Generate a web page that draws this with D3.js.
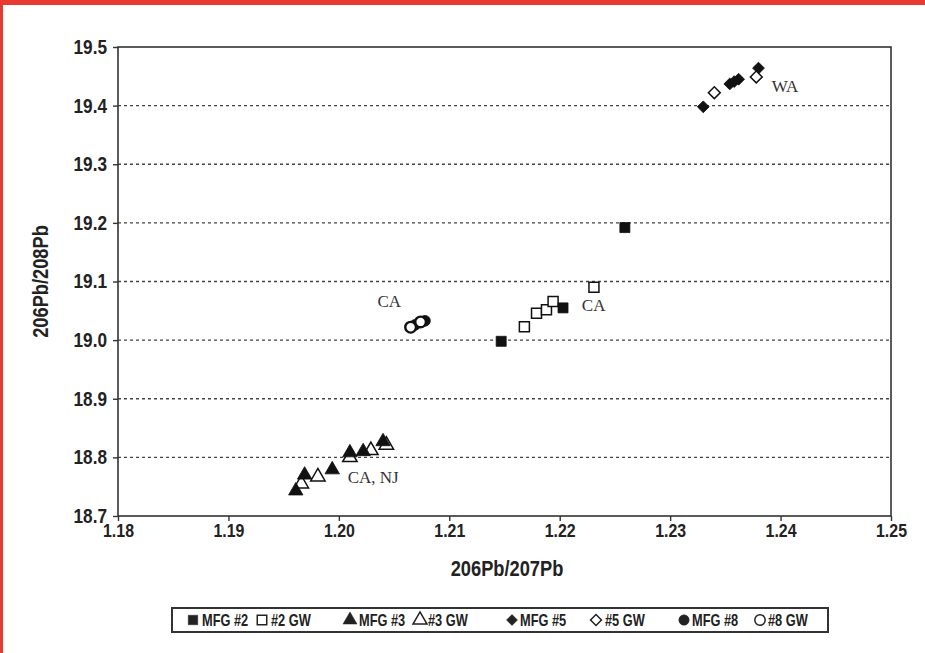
<!DOCTYPE html>
<html>
<head>
<meta charset="utf-8">
<script src="https://cdn.jsdelivr.net/npm/d3@7"></script>
<style>
  html, body { margin: 0; padding: 0; background: #fff; }
  svg { display: block; }
  .cond { font-family: "Liberation Sans", Arial, sans-serif; font-weight: bold; }
  .serif { font-family: "Liberation Serif", "DejaVu Serif", serif; }
</style>
</head>
<body>
<svg id="chart" width="925" height="653"></svg>
<script>
// Lead isotope ratios: 206Pb/207Pb (x) against 206Pb/208Pb (y)
const mfg2   = [[1.2147, 18.998], [1.2203, 19.055], [1.2259, 19.192]];
const gw2    = [[1.2168, 19.023], [1.2179, 19.046], [1.2188, 19.052], [1.2194, 19.066], [1.2231, 19.090]];
const mfg3   = [[1.1961, 18.743], [1.1969, 18.770], [1.1994, 18.779], [1.2010, 18.808], [1.2022, 18.810], [1.2040, 18.827]];
const gw3    = [[1.1966, 18.755], [1.1981, 18.767], [1.2010, 18.800], [1.2029, 18.812], [1.2043, 18.821]];
const mfg5   = [[1.2330, 19.398], [1.2354, 19.437], [1.2358, 19.441], [1.2362, 19.445], [1.2380, 19.464]];
const gw5    = [[1.2340, 19.422], [1.2378, 19.449]];
const mfg8   = [[1.2069, 19.026], [1.2078, 19.033]];
const gw8    = [[1.2065, 19.022], [1.2074, 19.031]];

const xTicks = [1.18, 1.19, 1.20, 1.21, 1.22, 1.23, 1.24, 1.25];
const yTicks = [18.7, 18.8, 18.9, 19.0, 19.1, 19.2, 19.3, 19.4, 19.5];
const gridValues = [18.8, 18.9, 19.0, 19.1, 19.2, 19.3, 19.4];

// Site annotations placed in data units (left edge / baseline)
const siteLabels = [
  { text: "WA",     x: 1.2392, y: 19.423 },
  { text: "CA",     x: 1.2035, y: 19.056 },
  { text: "CA",     x: 1.2220, y: 19.049 },
  { text: "CA, NJ", x: 1.2008, y: 18.756 }
];

const legendItems = [
  { label: "MFG #2", shape: "square",   filled: true,  sx: 193, tx: 202 },
  { label: "#2 GW",  shape: "square",   filled: false, sx: 262, tx: 271 },
  { label: "MFG #3", shape: "triangle", filled: true,  sx: 350, tx: 359 },
  { label: "#3 GW",  shape: "triangle", filled: false, sx: 420, tx: 428 },
  { label: "MFG #5", shape: "diamond",  filled: true,  sx: 512, tx: 520 },
  { label: "#5 GW",  shape: "diamond",  filled: false, sx: 596, tx: 605 },
  { label: "MFG #8", shape: "circle",   filled: true,  sx: 684, tx: 692 },
  { label: "#8 GW",  shape: "circle",   filled: false, sx: 760, tx: 768 }
];

const svg = d3.select("#chart");
const W = 925, H = 653;
const margin = { left: 118, right: 34, top: 47, bottom: 137 };
const SQUEEZE = 0.86; // horizontal compression for the condensed bold labels

// squeeze text horizontally while keeping its anchor point
function condense(sel, k, extra) {
  sel.each(function () {
    const t = d3.select(this);
    const xv = +t.attr("x") || 0;
    t.attr("x", xv / k).attr("transform", `${extra || ""} scale(${k},1)`);
  });
}

// page frame accents
svg.append("rect").attr("x", 0).attr("y", 0).attr("width", W).attr("height", H).attr("fill", "#fff");
svg.append("rect").attr("x", 0).attr("y", 0).attr("width", W).attr("height", 5).attr("fill", "#e83a30");
svg.append("rect").attr("x", 0).attr("y", 0).attr("width", 3).attr("height", H).attr("fill", "#e83a30");

const x = d3.scaleLinear().domain([1.18, 1.25]).range([margin.left, W - margin.right]);
const y = d3.scaleLinear().domain([18.7, 19.5]).range([H - margin.bottom, margin.top]);

// dotted gridlines
svg.append("g").selectAll("line").data(gridValues).join("line")
  .attr("x1", x(1.18)).attr("x2", x(1.25))
  .attr("y1", d => y(d)).attr("y2", d => y(d))
  .attr("stroke", "#444").attr("stroke-width", 1.3).attr("stroke-dasharray", "3,3");

// plot frame
svg.append("rect")
  .attr("x", x(1.18)).attr("y", y(19.5))
  .attr("width", x(1.25) - x(1.18)).attr("height", y(18.7) - y(19.5))
  .attr("fill", "none").attr("stroke", "#333").attr("stroke-width", 1.6);

// axes
const xAxis = svg.append("g").attr("transform", `translate(0,${y(18.7)})`)
  .call(d3.axisBottom(x).tickValues(xTicks).tickFormat(d3.format(".2f")).tickSize(5).tickPadding(3));
const yAxis = svg.append("g").attr("transform", `translate(${x(1.18)},0)`)
  .call(d3.axisLeft(y).tickValues(yTicks).tickFormat(d3.format(".1f")).tickSize(5).tickPadding(6));
[xAxis, yAxis].forEach(a => {
  a.select(".domain").remove();
  a.selectAll(".tick line").attr("stroke", "#333").attr("stroke-width", 1.4);
  a.selectAll(".tick text").attr("class", "cond").attr("fill", "#222");
});
xAxis.selectAll(".tick text").attr("font-size", 18.5);
yAxis.selectAll(".tick text").attr("font-size", 20);
condense(xAxis.selectAll(".tick text"), SQUEEZE);
condense(yAxis.selectAll(".tick text"), SQUEEZE);

// axis titles
const xTitle = svg.append("text").attr("class", "cond")
  .attr("x", 507).attr("y", 576)
  .attr("text-anchor", "middle").attr("font-size", 22).attr("fill", "#222")
  .text("206Pb/207Pb");
condense(xTitle, 0.83);
svg.append("text").attr("class", "cond")
  .attr("transform", `translate(48,${y(19.1)}) rotate(-90) scale(0.83,1)`)
  .attr("text-anchor", "middle").attr("font-size", 22).attr("fill", "#222")
  .text("206Pb/208Pb");

// marker shapes
const symbolOf = {
  square:   d3.symbol().type(d3.symbolSquare).size(100),
  triangle: d3.symbol().type(d3.symbolTriangle).size(90),
  diamond:  d3.symbol().type(d3.symbolSquare).size(70),
  circle:   d3.symbol().type(d3.symbolCircle).size(90)
};

function drawSeries(data, shape, filled) {
  svg.append("g").selectAll("path").data(data).join("path")
    .attr("d", symbolOf[shape]())
    .attr("transform", d => `translate(${x(d[0])},${y(d[1])})${shape === "diamond" ? " rotate(45)" : ""}`)
    .attr("fill", filled ? "#111" : "#fff")
    .attr("stroke", "#111")
    .attr("stroke-width", filled ? 0.8 : (shape === "circle" ? 2.4 : 1.5));
}

drawSeries(gw3, "triangle", false);
drawSeries(mfg3, "triangle", true);
drawSeries(gw2, "square", false);
drawSeries(mfg2, "square", true);
drawSeries(mfg5, "diamond", true);
drawSeries(gw5, "diamond", false);
drawSeries(mfg8, "circle", true);
drawSeries(gw8, "circle", false);

// site annotations
svg.append("g").selectAll("text").data(siteLabels).join("text")
  .attr("class", "serif")
  .attr("x", d => x(d.x)).attr("y", d => y(d.y))
  .attr("font-size", 17).attr("fill", "#333")
  .text(d => d.text);

// legend
const lg = svg.append("g");
lg.append("rect").attr("x", 172).attr("y", 608).attr("width", 656).attr("height", 24)
  .attr("fill", "#fff").attr("stroke", "#333").attr("stroke-width", 2);
const legendSym = {
  square:   d3.symbol().type(d3.symbolSquare).size(90),
  triangle: d3.symbol().type(d3.symbolTriangle).size(85),
  diamond:  d3.symbol().type(d3.symbolSquare).size(60),
  circle:   d3.symbol().type(d3.symbolCircle).size(85)
};
const li = lg.selectAll("g.item").data(legendItems).join("g").attr("class", "item");
li.append("path")
  .attr("d", d => legendSym[d.shape]())
  .attr("transform", d => `translate(${d.sx},620)${d.shape === "diamond" ? " rotate(45)" : ""}`)
  .attr("fill", d => d.filled ? "#222" : "#fff")
  .attr("stroke", "#222").attr("stroke-width", d => d.filled ? 0.5 : 1.5);
const lt = li.append("text").attr("class", "cond")
  .attr("x", d => d.tx).attr("y", 626)
  .attr("font-size", 16).attr("fill", "#222")
  .text(d => d.label);
condense(lt, 0.8);
</script>
</body>
</html>
